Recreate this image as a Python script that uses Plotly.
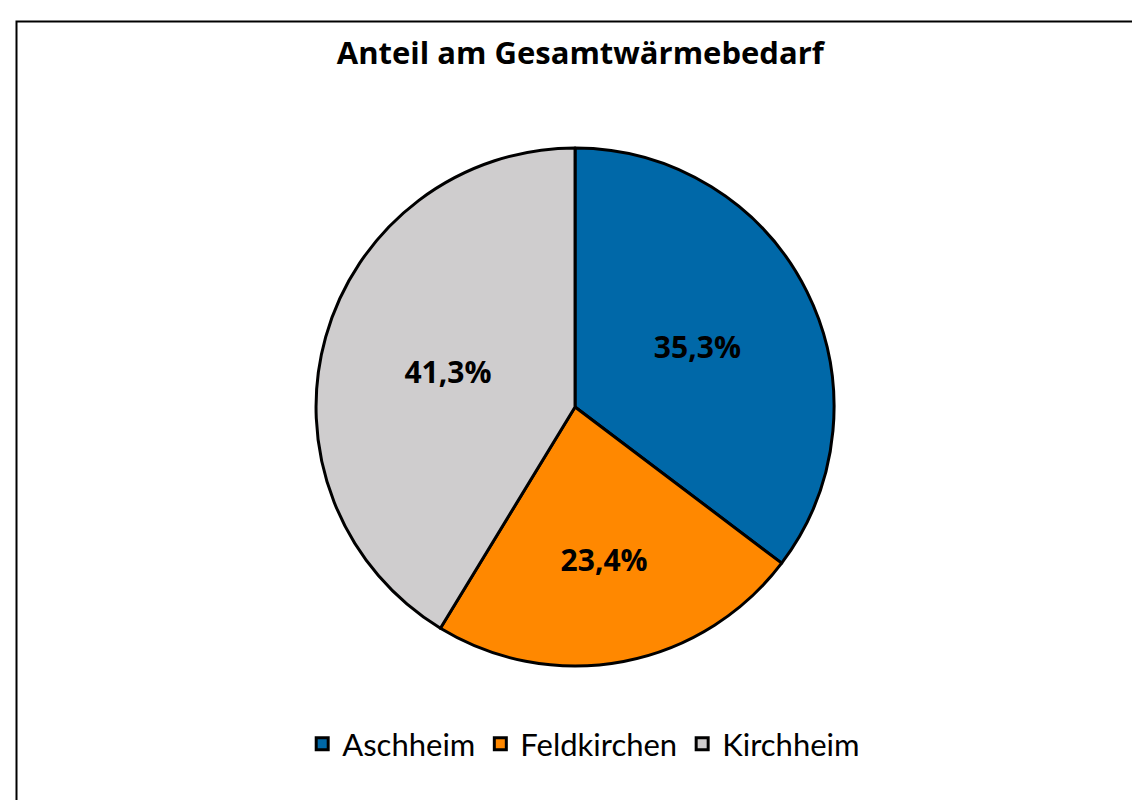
import plotly.graph_objects as go

labels = ["Aschheim", "Feldkirchen", "Kirchheim"]
values = [35.3, 23.4, 41.3]
colors = ["#0068a8", "#ff8800", "#cfcdce"]

fig = go.Figure(go.Pie(
    labels=labels,
    values=values,
    sort=False,
    direction="clockwise",
    rotation=0,
    marker=dict(colors=colors, line=dict(color="black", width=3)),
    texttemplate="%{percent:.1%}",
    textposition="inside",
    insidetextorientation="horizontal",
    textfont=dict(family="Open Sans", size=30, color="black", weight="bold"),
    domain=dict(x=[0.2702, 0.7246], y=[0.1775, 0.825]),
    hoverinfo="label+percent",
))

fig.update_layout(
    width=1140, height=800,
    margin=dict(l=0, r=0, t=0, b=0),
    separators=",.",
    paper_bgcolor="white",
    title=dict(text="<b>Anteil am Gesamtwärmebedarf</b>", x=0.502, xanchor="center",
               y=1 - 45 / 800, yanchor="middle",
               font=dict(family="Open Sans", size=31, color="black")),
    legend=dict(orientation="h", x=0.505, xanchor="center", y=1 - 736 / 800, yanchor="middle",
                font=dict(family="Lato", size=31, color="black"),
                itemwidth=30, tracegroupgap=0),
    shapes=[dict(type="rect", xref="paper", yref="paper",
                 x0=8.5 / 1140, x1=1.02, y0=-0.02, y1=1 - 13.5 / 800,
                 line=dict(color="black", width=2))],
)

fig.write_html("out.html")
